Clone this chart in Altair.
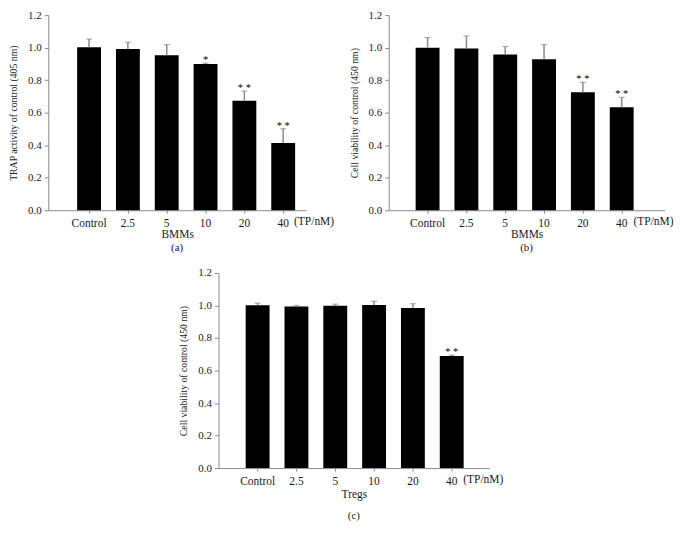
import altair as alt
import pandas as pd

cats = ["Control", "2.5", "5", "10", "20", "40"]

a_vals = [1.002, 0.992, 0.953, 0.899, 0.674, 0.414]
a_err = [1.053, 1.033, 1.019, 0.905, 0.733, 0.501]
a_stars = ["", "", "", "*", "* *", "* *"]

b_vals = [1.000, 0.995, 0.958, 0.929, 0.726, 0.633]
b_err = [1.062, 1.072, 1.007, 1.019, 0.787, 0.694]
b_stars = ["", "", "", "", "* *", "* *"]

c_vals = [1.002, 0.993, 0.998, 1.003, 0.985, 0.689]
c_err = [1.014, 1.000, 1.008, 1.026, 1.011, 0.695]
c_stars = ["", "", "", "", "", "* *"]

unit_label = ["(TP/nM)"]
yticks = [0.0, 0.2, 0.4, 0.6, 0.8, 1.0, 1.2]

FONT = "Liberation Serif"
GRAY = "#8a8a8a"
H = 196


def panel(vals, errs, stars, ytitle, xtitle, letter, width, po, al,
          tp_x, title_offset, label_pad, title_pad):
    df = pd.DataFrame({"cat": cats, "val": vals, "err": errs, "star": stars})
    xenc = alt.X(
        "cat:N", sort=cats,
        scale=alt.Scale(domain=cats, paddingInner=0.385, paddingOuter=po, align=al),
        axis=alt.Axis(title=xtitle, labelAngle=0, tickSize=3, labelPadding=label_pad,
                      titlePadding=title_pad, labelFontSize=11.5, titleFontSize=11.5,
                      labelOverlap=False),
    )
    yscale = alt.Scale(domain=[0, 1.2], nice=False)
    yaxis = alt.Axis(title=ytitle, values=yticks, tickCount=7, format=".1f", grid=False,
                     tickSize=4, labelPadding=3, titlePadding=9,
                     labelFontSize=11, titleFontSize=9.8, labelOverlap=False)
    base = alt.Chart(df).encode(x=xenc)
    bars = base.mark_bar(color="black").encode(
        y=alt.Y("val:Q", scale=yscale, axis=yaxis))
    rule = base.mark_rule(color=GRAY, strokeWidth=1.5).encode(
        y=alt.Y("val:Q", scale=yscale, axis=yaxis), y2="err:Q")
    cap = base.mark_tick(color=GRAY, size=6, thickness=1.2).encode(
        y=alt.Y("err:Q", scale=yscale, axis=yaxis))
    star = base.mark_text(font=FONT, fontSize=10.5, baseline="alphabetic", dy=0,
                          color="black").encode(
        y=alt.Y("err:Q", scale=yscale, axis=yaxis), text="star:N")
    tp = alt.Chart(pd.DataFrame({"t": unit_label})).mark_text(
        font=FONT, fontSize=11.5, baseline="middle", color="#1a1a1a"
    ).encode(x=alt.value(tp_x), y=alt.value(H + 12), text="t:N")
    return alt.layer(bars, rule, cap, star, tp).properties(
        width=width, height=H,
        title=alt.TitleParams(letter, orient="bottom", anchor="middle",
                              font=FONT, fontSize=11, fontWeight="normal",
                              color="#1a1a1a", offset=title_offset),
    )


pa = panel(a_vals, a_err, a_stars, "TRAP activity of control (405 nm)", "BMMs", "(a)",
           259, 0.513, 0.725, 267, 2, 4, 0)
pb = panel(b_vals, b_err, b_stars, "Cell viability of control (450 nm)", "BMMs", "(b)",
           277, 0.744, 0.466, 266, 2, 4, 0)
pc = panel(c_vals, c_err, c_stars, "Cell viability of control (450 nm)", "Tregs", "(c)",
           272, 0.680, 0.515, 266, 10, 4, 2)

top = alt.hconcat(pa, pb, spacing=14)
chart = alt.vconcat(top, pc, spacing=14, center=True).properties(
    padding={"left": 0, "top": 0, "right": 0, "bottom": 0}
).configure_axis(
    labelFont=FONT, titleFont=FONT, labelColor="#1a1a1a", titleColor="#1a1a1a",
    domainColor=GRAY, tickColor=GRAY, titleFontWeight="normal",
).configure_view(stroke=None)

chart.save("out.html", embed_options={"renderer": "svg", "actions": False})
